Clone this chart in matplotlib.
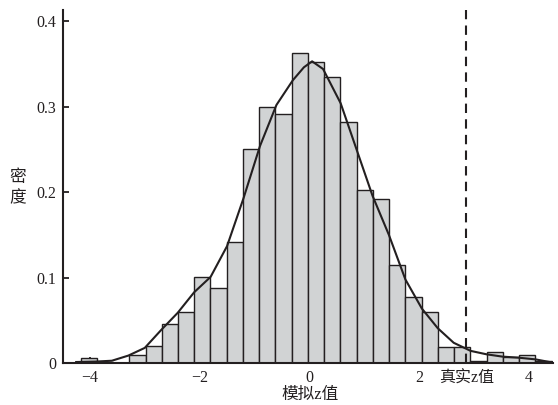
import matplotlib
matplotlib.use("Agg")
import matplotlib.pyplot as plt
import numpy as np

plt.rcParams['font.family'] = ['Liberation Serif', 'Noto Sans CJK SC', 'DejaVu Sans']
plt.rcParams['axes.unicode_minus'] = True

# Histogram (density)
bin_start = -4.17
bin_width = 0.296
densities = [0.0066, 0.002, 0.0, 0.0097, 0.020, 0.046, 0.060, 0.1006, 0.0877,
             0.1415, 0.250, 0.300, 0.291, 0.3626, 0.3517, 0.335, 0.2826, 0.2027,
             0.1918, 0.115, 0.0772, 0.060, 0.0194, 0.0194, 0.003, 0.0129, 0.007,
             0.0097, 0.003]

# KDE curve points
kde_x = [-4.25, -3.9, -3.6, -3.3, -3.0, -2.7, -2.4, -2.1, -1.8, -1.5, -1.2,
         -0.9, -0.6, -0.3, -0.1, 0.05, 0.25, 0.57, 0.86, 1.15, 1.45, 1.75,
         2.05, 2.34, 2.63, 2.94, 3.23, 3.52, 3.81, 4.12, 4.42]
kde_y = [0.0015, 0.002, 0.003, 0.009, 0.018, 0.039, 0.059, 0.083, 0.101,
         0.137, 0.193, 0.254, 0.302, 0.331, 0.346, 0.353, 0.344, 0.304, 0.250,
         0.196, 0.150, 0.098, 0.064, 0.041, 0.024, 0.0145, 0.0105, 0.0078,
         0.0066, 0.0046, 0.001]

true_z = 2.86
xticks = [-4, -2, 0, 2, true_z, 4]
xticklabels = ['\u22124', '\u22122', '0', '2', '真实z值', '4']
yticks = [0, 0.1, 0.2, 0.3, 0.4]
yticklabels = ['0', '0.1', '0.2', '0.3', '0.4']
ylabel_chars = ['密', '度']
xlabel_text = '模拟z值'

ink = '#231f20'

fig = plt.figure(figsize=(5.58, 4.05), dpi=100)
ax = fig.add_axes([63/558, 1-363.3/405, (553-63)/558, (363.3-10)/405])

lefts = bin_start + bin_width * np.arange(len(densities))
ax.bar(lefts, densities, width=bin_width, align='edge', color='#d1d3d4',
       edgecolor=ink, linewidth=1.0, zorder=2)
ax.plot(kde_x, kde_y, color=ink, linewidth=1.5, zorder=3)
ax.axvline(true_z, color=ink, linewidth=1.5, linestyle=(0, (4.5, 3)), zorder=4)

ax.set_xlim(-4.49, 4.44)
ax.set_ylim(0, 0.413)
ax.set_xticks(xticks)
ax.set_xticklabels(xticklabels)
ax.set_yticks(yticks)
ax.set_yticklabels(yticklabels)
for lbl in ax.get_xticklabels():
    if lbl.get_text() == '真实z值':
        lbl.set_fontsize(12)
for s in ['top', 'right']:
    ax.spines[s].set_visible(False)
for s in ['left', 'bottom']:
    ax.spines[s].set_linewidth(1.5)
    ax.spines[s].set_color(ink)
ax.tick_params(direction='in', length=4, width=1.3, color=ink, labelsize=11.5,
               labelcolor=ink, pad=5)

for ch, yc in zip(ylabel_chars, [178, 198]):
    fig.text(18/558, 1-yc/405, ch, ha='center', va='center', fontsize=12,
             color=ink)
fig.text(310/558, 1-395/405, xlabel_text, ha='center', va='center', fontsize=12,
         color=ink)

fig.savefig('out.png', dpi=100)
